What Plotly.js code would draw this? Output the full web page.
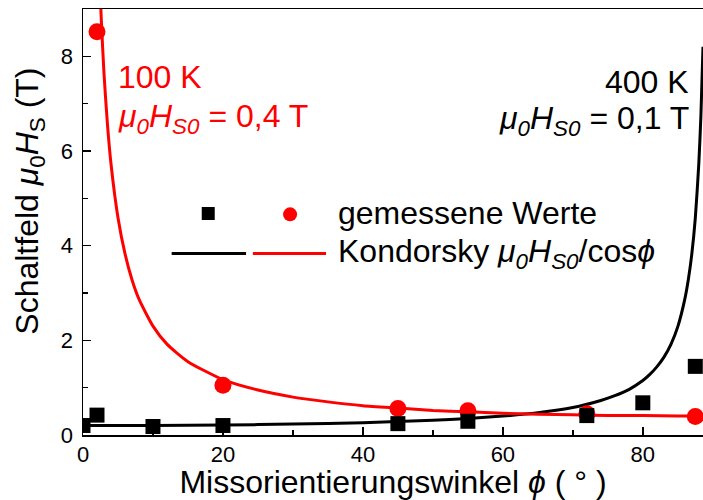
<!DOCTYPE html>
<html>
<head>
<meta charset="utf-8">
<script src="https://cdn.plot.ly/plotly-3.0.1.min.js"></script>
<style>
  html, body { margin: 0; padding: 0; background: #fff; }
  #chart { width: 703px; height: 500px; }
</style>
</head>
<body>
<div id="chart"></div>
<script>
// Measured switching fields (T) versus misorientation angle (deg)
var angle400K = [0, 2, 10, 20, 45, 55, 72, 80, 87.5];
var field400K = [0.2, 0.42, 0.18, 0.2, 0.24, 0.29, 0.41, 0.68, 1.45];

var angle100K = [2, 20, 45, 55, 72, 87.5];
var field100K = [8.52, 1.05, 0.56, 0.51, 0.45, 0.39];

// Kondorsky curves
var curveAngle400K = [0, 10, 20, 30, 40, 50, 55, 60, 65, 70, 74, 76, 78, 80, 81, 82, 83, 84, 85, 86, 86.5, 87, 87.5, 88, 88.3, 88.6];
var curveField400K = [0.2, 0.2, 0.21, 0.23, 0.26, 0.31, 0.35, 0.4, 0.47, 0.58, 0.73, 0.83, 0.96, 1.15, 1.28, 1.44, 1.64, 1.91, 2.29, 2.87, 3.28, 3.82, 4.58, 5.73, 6.74, 8.2];

var curveAngle100K = [2.3, 2.6, 3, 3.5, 4, 5, 6, 7, 8, 10, 12, 15, 20, 25, 30, 35, 40, 45, 50, 55, 60, 65, 70, 75, 80, 85, 88.6];
var curveField100K = [9.97, 8.82, 7.64, 6.55, 5.73, 4.59, 3.83, 3.28, 2.87, 2.3, 1.92, 1.55, 1.17, 0.95, 0.8, 0.7, 0.62, 0.57, 0.52, 0.49, 0.46, 0.44, 0.43, 0.41, 0.41, 0.4, 0.4];

var xTicks = [0, 20, 40, 60, 80];
var yTicks = [0, 2, 4, 6, 8];

// Legend sample positions (fractions of the plotting area)
var keyMarkX = [0.202, 0.334];
var keyMarkY = [0.52, 0.518];
var keyLineBlackX = [0.143, 0.263];
var keyLineRedX = [0.274, 0.392];
var keyLineY = [0.426, 0.426];

var RED = '#ff0000';
var BLACK = '#000000';
var FONT = 'Liberation Sans, Arial, sans-serif';

var traces = [
  { x: curveAngle400K, y: curveField400K, mode: 'lines', line: { color: BLACK, width: 3, shape: 'spline', smoothing: 0.6 }, hoverinfo: 'skip' },
  { x: curveAngle100K, y: curveField100K, mode: 'lines', line: { color: RED, width: 3, shape: 'spline', smoothing: 0.6 }, hoverinfo: 'skip' },
  { x: angle100K, y: field100K, mode: 'markers', marker: { symbol: 'circle', size: 17, color: RED } },
  { x: angle400K, y: field400K, mode: 'markers', marker: { symbol: 'square', size: 15, color: BLACK } },
  // key samples
  { x: [keyMarkX[0]], y: [keyMarkY[0]], xaxis: 'x2', yaxis: 'y2', mode: 'markers', marker: { symbol: 'square', size: 13, color: BLACK }, cliponaxis: false },
  { x: [keyMarkX[1]], y: [keyMarkY[1]], xaxis: 'x2', yaxis: 'y2', mode: 'markers', marker: { symbol: 'circle', size: 14, color: RED }, cliponaxis: false },
  { x: keyLineBlackX, y: keyLineY, xaxis: 'x2', yaxis: 'y2', mode: 'lines', line: { color: BLACK, width: 3 } },
  { x: keyLineRedX, y: keyLineY, xaxis: 'x2', yaxis: 'y2', mode: 'lines', line: { color: RED, width: 3 } }
];

var ann = function (text, x, y, xanchor, color) {
  return { text: text, x: x, y: y, xref: 'paper', yref: 'paper', xanchor: xanchor, yanchor: 'middle',
           showarrow: false, font: { family: FONT, size: 32, color: color } };
};

// vertical axis title, placed a little above the middle of the axis
var yTitle = ann('Schaltfeld <i>μ</i><sub>0</sub><i>H</i><sub>S</sub> (T)', -0.0855, 0.55, 'center', BLACK);
yTitle.textangle = -90;

var layout = {
  width: 703, height: 500,
  margin: { l: 83, r: 0, t: 9, b: 65 },
  paper_bgcolor: '#fff', plot_bgcolor: '#fff',
  showlegend: false,
  font: { family: FONT, color: BLACK },
  xaxis: {
    range: [0, 88.6], tickvals: xTicks, ticks: 'inside', ticklen: 8, tickwidth: 1.5, tickcolor: BLACK,
    minor: { dtick: 10, ticks: 'inside', ticklen: 5, tickwidth: 1.5, tickcolor: BLACK },
    showline: true, mirror: true, linecolor: BLACK, linewidth: 1.5, showgrid: false, zeroline: false,
    tickfont: { size: 22, family: FONT }, ticklabelstandoff: -1,
    title: { text: 'Missorientierungswinkel <i>ϕ</i> ( ° )', font: { size: 32, family: FONT }, standoff: 0 }
  },
  yaxis: {
    range: [0, 9], tickvals: yTicks, ticks: 'inside', ticklen: 8, tickwidth: 1.5, tickcolor: BLACK,
    minor: { dtick: 1, ticks: 'inside', ticklen: 5, tickwidth: 1.5, tickcolor: BLACK },
    showline: true, mirror: false, linecolor: BLACK, linewidth: 1.5, showgrid: false, zeroline: false,
    tickfont: { size: 22, family: FONT }, ticklabelstandoff: 4
  },
  xaxis2: { overlaying: 'x', range: [0, 1], visible: false, fixedrange: true },
  yaxis2: { overlaying: 'y', range: [0, 1], visible: false, fixedrange: true },
  annotations: [
    yTitle,
    ann('100 K', 0.053, 0.84, 'left', RED),
    ann('<i>μ<sub>0</sub>H<sub>S0</sub></i> = 0,4 T', 0.053, 0.744, 'left', RED),
    ann('400 K', 0.98, 0.828, 'right', BLACK),
    ann('<i>μ<sub>0</sub>H<sub>S0</sub></i> = 0,1 T', 0.98, 0.739, 'right', BLACK),
    ann('gemessene Werte', 0.408, 0.52, 'left', BLACK),
    ann('Kondorsky <i>μ<sub>0</sub>H<sub>S0</sub></i>/cos<i>ϕ</i>', 0.408, 0.426, 'left', BLACK)
  ]
};

Plotly.newPlot('chart', traces, layout, { staticPlot: true, displayModeBar: false });
</script>
</body>
</html>
